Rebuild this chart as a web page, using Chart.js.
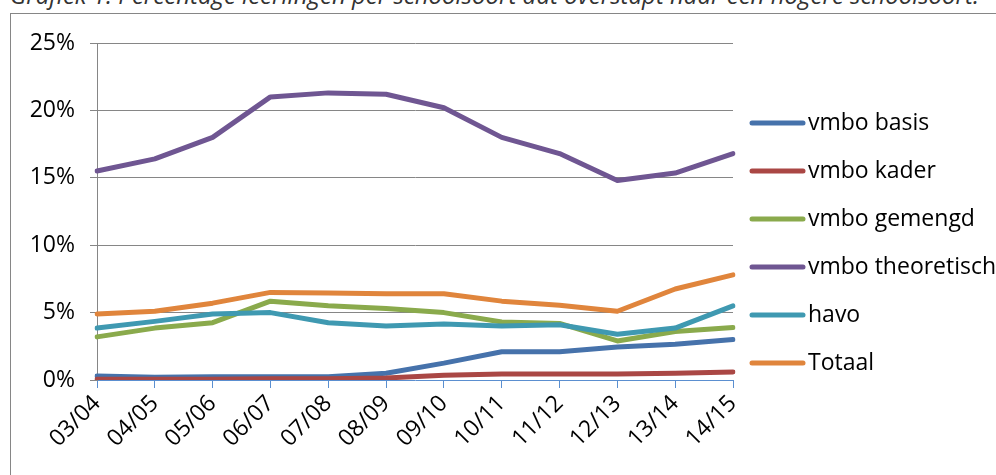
<!DOCTYPE html>
<html>
<head>
<meta charset="utf-8">
<script src="https://cdn.jsdelivr.net/npm/chart.js@4"></script>
<style>
body { margin: 0; width: 996px; height: 475px; overflow: hidden; background: #fff; position: relative; }
#title { position: absolute; left: 10px; top: -20px; font: italic 24px/30px "Open Sans"; color: #333; white-space: nowrap; }
#box { position: absolute; left: 10px; top: 13px; width: 1100px; height: 600px; border: 1px solid #868686; }
canvas { position: absolute; left: 0; top: 0; }
</style>
</head>
<body>
<div id="title">Grafiek 1: Percentage leerlingen per schoolsoort dat overstapt naar een hogere schoolsoort.</div>
<div id="box"></div>
<canvas id="myChart" width="996" height="475"></canvas>
<script>
var categories = ['03/04','04/05','05/06','06/07','07/08','08/09','09/10','10/11','11/12','12/13','13/14','14/15'];
var vmboBasis       = [0.3, 0.2, 0.25, 0.25, 0.25, 0.5, 1.25, 2.1, 2.1, 2.45, 2.65, 3.0];
var vmboKader       = [0.05, 0.05, 0.05, 0.1, 0.1, 0.15, 0.35, 0.45, 0.45, 0.45, 0.5, 0.6];
var vmboGemengd     = [3.2, 3.85, 4.25, 5.85, 5.5, 5.3, 5.0, 4.3, 4.2, 2.9, 3.6, 3.9];
var vmboTheoretisch = [15.5, 16.4, 18.0, 21.0, 21.3, 21.2, 20.2, 18.0, 16.8, 14.8, 15.35, 16.8];
var havo            = [3.85, 4.35, 4.9, 5.0, 4.25, 4.0, 4.15, 4.0, 4.1, 3.4, 3.85, 5.5];
var totaal          = [4.9, 5.1, 5.7, 6.5, 6.45, 6.4, 6.4, 5.85, 5.55, 5.1, 6.75, 7.8];
var yTicks = [0, 5, 10, 15, 20, 25];

Chart.defaults.font.family = '"Open Sans"';
Chart.defaults.font.size = 23;
Chart.defaults.color = '#000';

function line(label, data, color, i) {
    return {
        label: label,
        data: data,
        borderColor: color,
        backgroundColor: color,
        borderWidth: 5,
        pointRadius: 0,
        tension: 0,
        borderJoinStyle: 'round',
        borderCapStyle: 'round',
        order: 10 - i
    };
}

// legend drawn by hand so it sits where the original one is
var sideLegend = {
    id: 'sideLegend',
    afterDraw: function(chart) {
        var c = chart.ctx;
        c.save();
        chart.data.datasets.forEach(function(ds, i) {
            var y = 123 + i * 48;
            c.strokeStyle = ds.borderColor;
            c.lineWidth = 5;
            c.lineCap = 'round';
            c.beginPath();
            c.moveTo(752, y);
            c.lineTo(803, y);
            c.stroke();
            c.fillStyle = '#000';
            c.font = '23px "Open Sans"';
            c.textBaseline = 'middle';
            c.fillText(ds.label, 808, y);
        });
        c.restore();
    }
};

var ctx = document.getElementById('myChart');
new Chart(ctx, {
    type: 'line',
    data: {
        labels: categories,
        datasets: [
            line('vmbo basis', vmboBasis, '#4672AB', 0),
            line('vmbo kader', vmboKader, '#AA4744', 1),
            line('vmbo gemengd', vmboGemengd, '#8AAA4C', 2),
            line('vmbo theoretisch', vmboTheoretisch, '#6F5692', 3),
            line('havo', havo, '#3F99B1', 4),
            line('Totaal', totaal, '#E0853C', 5)
        ]
    },
    options: {
        responsive: false,
        animation: false,
        layout: { padding: { top: 43, right: 263, left: 0, bottom: 0 } },
        plugins: { legend: { display: false }, tooltip: { enabled: false } },
        scales: {
            x: {
                offset: false,
                grid: { drawOnChartArea: false, drawTicks: true, tickLength: 8, color: '#5B8FD0', offset: false },
                border: { color: '#5B8FD0', width: 1 },
                ticks: { autoSkip: false, maxRotation: 45, minRotation: 45, padding: 2 },
                afterFit: function(s) { s.height = 95; }
            },
            y: {
                min: 0,
                max: 25,
                afterBuildTicks: function(s) { s.ticks = yTicks.map(function(v) { return { value: v }; }); },
                ticks: { padding: 15, callback: function(v) { return v + '%'; } },
                grid: {
                    tickLength: 7,
                    tickColor: '#868686',
                    color: function(c) { return c.tick && c.tick.value === 0 ? 'rgba(0,0,0,0)' : '#868686'; }
                },
                border: { color: '#868686' },
                afterFit: function(s) { s.width = 97; }
            }
        }
    },
    plugins: [sideLegend]
});
</script>
</body>
</html>
